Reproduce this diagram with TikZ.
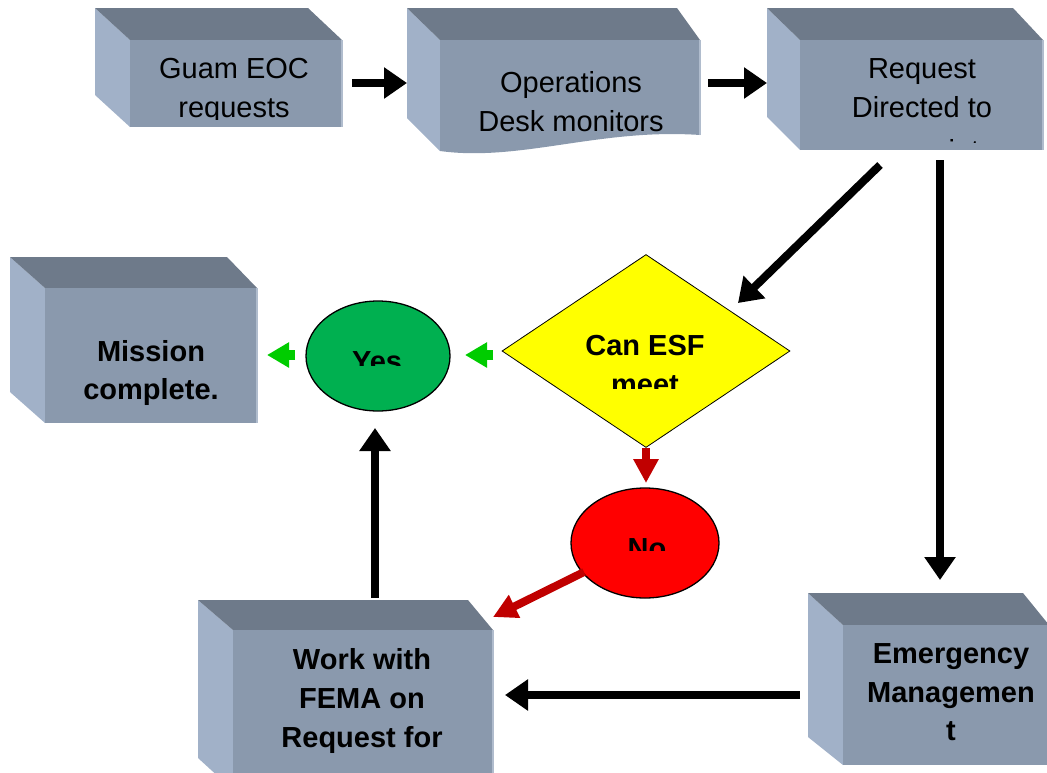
\documentclass[tikz,border=0pt]{standalone}
\usepackage{fontspec}
\setmainfont{Liberation Sans}
\usetikzlibrary{arrows.meta,shapes.geometric}
\definecolor{topc}{HTML}{6E7A8A}
\definecolor{frontc}{HTML}{8A99AD}
\definecolor{sidec}{HTML}{A1B1C8}
\definecolor{edgec}{HTML}{B0BCCD}
\definecolor{grn}{HTML}{00CC00}
\definecolor{redarrow}{HTML}{C00000}
\definecolor{yesgreen}{HTML}{00B050}
\definecolor{nored}{HTML}{FF0000}
\definecolor{diayellow}{HTML}{FFFF00}
\tikzset{
  txt/.style={anchor=base, inner sep=0pt, font=\fontsize{29}{39}\selectfont},
  btxt/.style={anchor=base, inner sep=0pt, font=\fontsize{29}{39}\selectfont\bfseries},
  blackarrow/.style={draw=black, line width=8pt, -{Triangle[length=23pt,width=30pt]}},
  greenarrow/.style={draw=grn, line width=10pt, -{Triangle[length=22pt,width=24pt]}},
  redarr/.style={draw=redarrow, line width=8pt, -{Triangle[length=24pt,width=24pt]}},
  frontedge/.style={draw=edgec, line width=1.5pt},
}
% #1 back-left x, #2 back-right x, #3 back top y, #4 front-left x, #5 front-right x,
% #6 front top y, #7 front bottom y, #8 side bottom-left y
\newcommand{\boxthreed}[8]{%
  \fill[sidec] (#1,#3) -- (#4,#6) -- (#4,#7) -- (#1,#8) -- cycle;
  \fill[topc] (#1,#3) -- (#2,#3) -- (#5,#6) -- (#4,#6) -- cycle;
  \fill[frontc] (#4,#6) rectangle (#5,#7);
  \draw[frontedge] (#5,#6) -- (#5,#7);
}
\begin{document}
\begin{tikzpicture}[x=1pt,y=-1pt]
\useasboundingbox (0,0) rectangle (1047,772);
\clip (0,0) rectangle (1047,772);

% ---------- boxes ----------
\boxthreed{95}{308}{8}{130}{342}{40}{127}{95}
\coordinate (guam) at (236,83);
% operations (document-style bottom)
\fill[sidec] (407,8) -- (440,40) -- (440,151) -- (407,118) -- cycle;
\fill[topc] (407,8) -- (677,8) -- (700,40) -- (440,40) -- cycle;
\fill[frontc] (440,40) -- (700,40) -- (700,135) .. controls (600,128) and (520,162) .. (440,151) -- cycle;
\draw[frontedge] (700,40) -- (700,135);
\coordinate (ops) at (570,95);
\boxthreed{767}{1013}{8}{800}{1043}{40}{150}{117}
\coordinate (req) at (921,95);
\boxthreed{10}{227}{257}{45}{257}{288}{423}{392}
\coordinate (mission) at (151,355);
\boxthreed{198}{468}{600}{233}{493}{630}{790}{758}
\coordinate (fema) at (363,700);
\boxthreed{808}{1023}{593}{843}{1049}{625}{765}{737}
\coordinate (emerg) at (945,695);

% ---------- decision shapes ----------
\node[diamond, draw=black, line width=0.8pt, fill=diayellow, inner sep=0pt,
      minimum width=288pt, minimum height=193pt] (esf) at (646,351) {};
\node[ellipse, draw=black, line width=1.3pt, fill=yesgreen, inner sep=0pt,
      minimum width=144pt, minimum height=110pt] (yes) at (378,356) {};
\node[ellipse, draw=black, line width=1.3pt, fill=nored, inner sep=0pt,
      minimum width=148pt, minimum height=110pt] (no) at (645,543) {};

% ---------- texts (clipped like the original text frames) ----------
\begin{scope}
  \clip (130,40) rectangle (342,119);
  \node[txt] (t1a) at (234,78) {Guam EOC};
  \node[txt] (t1b) at (234,117) {requests};
\end{scope}
\node[txt] (t2a) at (571,92) {Operations};
\node[txt] (t2b) at (571,131) {Desk monitors};
\begin{scope}
  \clip (800,40) rectangle (1043,142);
  \node[txt] (t3a) at (922,78) {Request};
  \node[txt] (t3b) at (922,117) {Directed to};
  \node[txt] (t3c) at (922,160) {appropriate};
\end{scope}
\node[btxt] (t4a) at (151,361) {Mission};
\node[btxt] (t4b) at (151,399) {complete.};
\begin{scope}
  \clip (500,300) rectangle (790,388);
  \node[btxt] (t5a) at (645,355) {Can ESF};
  \node[btxt] (t5b) at (645,394) {meet};
\end{scope}
\begin{scope}
  \clip (300,330) rectangle (460,365);
  \node[btxt] (t6) at (377,371) {Yes};
\end{scope}
\begin{scope}
  \clip (570,520) rectangle (720,550);
  \node[btxt] (t7) at (647,558) {No};
\end{scope}
\node[btxt] (t8a) at (362,669) {Work with};
\node[btxt] (t8b) at (362,708) {FEMA on};
\node[btxt] (t8c) at (362,747) {Request for};
\node[btxt] (t9a) at (951,663) {Emergency};
\node[btxt] (t9b) at (951,702) {Managemen};
\node[btxt] (t9c) at (951,740) {t};

% ---------- connector end points ----------
\coordinate (g-out) at (352,83);
\coordinate (o-in) at (407,83);
\coordinate (o-out) at (708,83);
\coordinate (r-in) at (767,83);
\coordinate (r-diag) at (880,165);
\coordinate (esf-in) at (738,303);
\coordinate (r-down) at (940,160);
\coordinate (em-in) at (940,580);
\coordinate (em-out) at (800,695);
\coordinate (fema-in) at (505,695);
\coordinate (fema-up) at (375,598);
\coordinate (yes-in) at (375,428);
\coordinate (esf-out) at (493,355);
\coordinate (yes-r) at (465,355);
\coordinate (yes-out) at (295,355);
\coordinate (mis-in) at (267,355);
\coordinate (esf-dn) at (646,448);
\coordinate (no-in) at (646,483);
\coordinate (no-out) at (584,572);
\coordinate (fema-r) at (493,617);

% ---------- connectors ----------
\draw[blackarrow] (g-out) -- (o-in);
\draw[blackarrow] (o-out) -- (r-in);
\draw[blackarrow] (r-diag) -- (esf-in);
\draw[blackarrow] (r-down) -- (em-in);
\draw[blackarrow] (em-out) -- (fema-in);
\draw[blackarrow] (fema-up) -- (yes-in);
\draw[greenarrow] (esf-out) -- (yes-r);
\draw[greenarrow] (yes-out) -- (mis-in);
\draw[redarr] (esf-dn) -- (no-in);
\draw[redarr] (no-out) -- (fema-r);
\end{tikzpicture}
\end{document}
